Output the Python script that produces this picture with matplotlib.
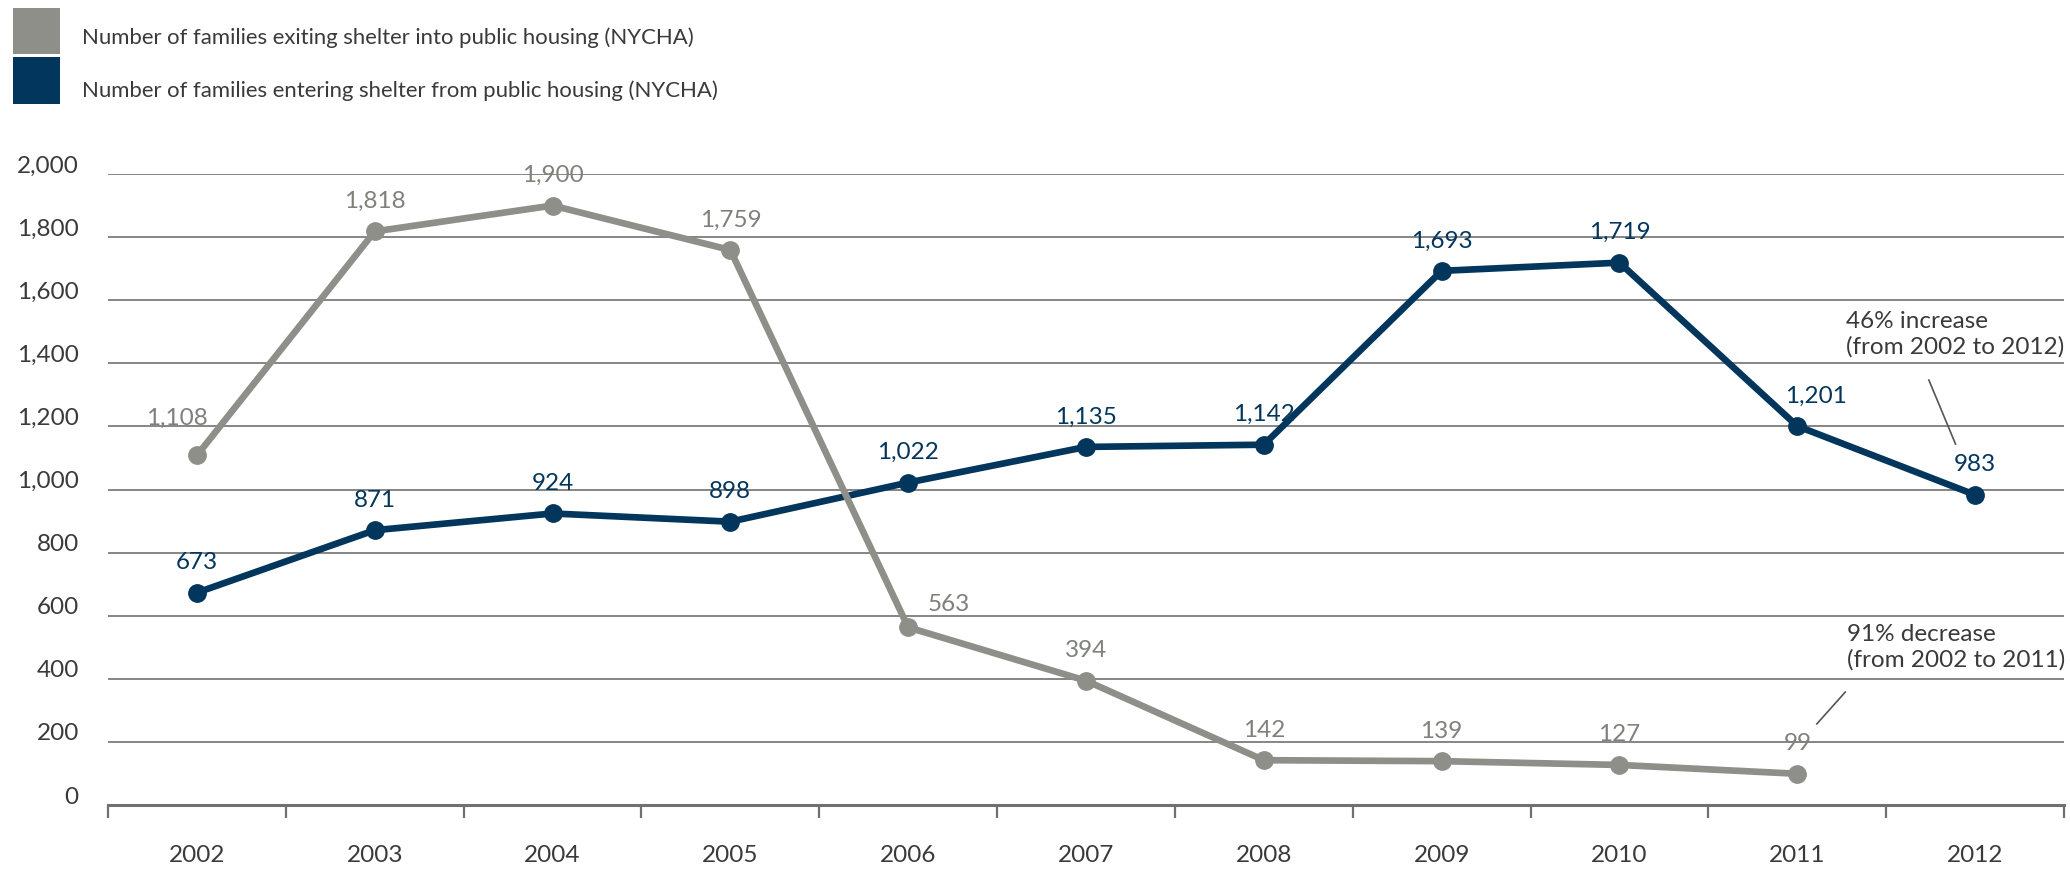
import matplotlib
matplotlib.use("Agg")
import matplotlib.pyplot as plt
from matplotlib.patches import Rectangle
from matplotlib.transforms import ScaledTranslation

plt.rcParams['font.family'] = ['Lato', 'DejaVu Sans']

years = ['2002', '2003', '2004', '2005', '2006', '2007', '2008', '2009', '2010', '2011', '2012']
exiting = [1108, 1818, 1900, 1759, 563, 394, 142, 139, 127, 99, None]
entering = [673, 871, 924, 898, 1022, 1135, 1142, 1693, 1719, 1201, 983]
exiting_label = 'Number of families exiting shelter into public housing (NYCHA)'
entering_label = 'Number of families entering shelter from public housing (NYCHA)'
y_ticks = [0, 200, 400, 600, 800, 1000, 1200, 1400, 1600, 1800, 2000]

GRAY = '#8e8f89'
NAVY = '#03365c'
TXT = '#3a3a3a'
FS = 17.5

W, H = 2070, 873
fig = plt.figure(figsize=(W / 100, H / 100), dpi=100)
ax = fig.add_axes([108 / W, 1 - 805 / H, (2064 - 108) / W, (805 - 174) / H])

x = list(range(len(years)))
ax.set_xlim(-0.5, len(years) - 0.5)
ax.set_ylim(0, 2000)

# gridlines
for v in y_ticks[1:]:
    ax.axhline(v, color='#858585', lw=1.4, zorder=1)

for s in ['top', 'right', 'left']:
    ax.spines[s].set_visible(False)
ax.spines['bottom'].set_color('#707070')
ax.spines['bottom'].set_linewidth(2.2)
ax.spines['bottom'].set_zorder(2)

# x ticks at category boundaries
ax.set_xticks([i - 0.5 for i in range(len(years) + 1)])
ax.set_xticklabels([])
ax.tick_params(axis='x', length=9, width=1.6, color='#707070', direction='out')

# y tick labels
ax.set_yticks(y_ticks)
ax.set_yticklabels([f'{v:,}' for v in y_ticks], fontsize=FS, color=TXT)
ax.tick_params(axis='y', length=0, pad=21)
for lbl in ax.get_yticklabels():
    lbl.set_transform(lbl.get_transform() + ScaledTranslation(0, 10 / 100, fig.dpi_scale_trans))

# year labels
for i, yr in enumerate(years):
    ax.annotate(yr, (i, 0), xycoords=('data', 'axes fraction'), xytext=(0, -51 / 1.389),
                textcoords='offset points', ha='center', va='center', fontsize=FS, color=TXT,
                annotation_clip=False)

# series
ex_x = [i for i, v in zip(x, exiting) if v is not None]
ex_y = [v for v in exiting if v is not None]
ax.plot(x, entering, color=NAVY, lw=4.8, marker='o', ms=12.5, zorder=3, clip_on=False,
        solid_joinstyle='round')
ax.plot(ex_x, ex_y, color=GRAY, lw=4.8, marker='o', ms=12.5, zorder=4, clip_on=False,
        solid_joinstyle='round')

PX = 1 / 1.389  # px -> points
ex_off = {0: (-20, 37), 4: (41, 23)}
en_off = {9: (19, 30)}
for i, v in zip(ex_x, ex_y):
    dx, dy = ex_off.get(i, (0, 30))
    ax.annotate(f'{v:,}', (i, v), xytext=(dx * PX, dy * PX), textcoords='offset points',
                ha='center', va='center', fontsize=FS, color='#7f817b', zorder=5)
for i, v in zip(x, entering):
    dx, dy = en_off.get(i, (0, 30))
    ax.annotate(f'{v:,}', (i, v), xytext=(dx * PX, dy * PX), textcoords='offset points',
                ha='center', va='center', fontsize=FS, color=NAVY, zorder=5)

# change annotations
ax.text(9.274, 1531, '46% increase', fontsize=FS, color=TXT, ha='left', va='center')
ax.text(9.274, 1452, '(from 2002 to 2012)', fontsize=FS, color=TXT, ha='left', va='center')
ax.plot([9.74, 9.89], [1347, 1144], color='#555555', lw=1.2, zorder=2)
ax.text(9.28, 539, '91% decrease', fontsize=FS, color=TXT, ha='left', va='center')
ax.text(9.28, 460, '(from 2002 to 2011)', fontsize=FS, color=TXT, ha='left', va='center')
ax.plot([9.11, 9.27], [257, 358], color='#555555', lw=1.2, zorder=2)

# legend
fig.patches.append(Rectangle((13 / W, 1 - 54 / H), 47 / W, 46 / H, transform=fig.transFigure,
                             color=GRAY, lw=0))
fig.patches.append(Rectangle((13 / W, 1 - 104 / H), 47 / W, 47 / H, transform=fig.transFigure,
                             color=NAVY, lw=0))
fig.text(82 / W, 1 - 44 / H, exiting_label, fontsize=15.9, color=TXT, ha='left', va='baseline')
fig.text(82 / W, 1 - 97 / H, entering_label, fontsize=15.9, color=TXT, ha='left', va='baseline')

fig.savefig('out.png', dpi=100)
